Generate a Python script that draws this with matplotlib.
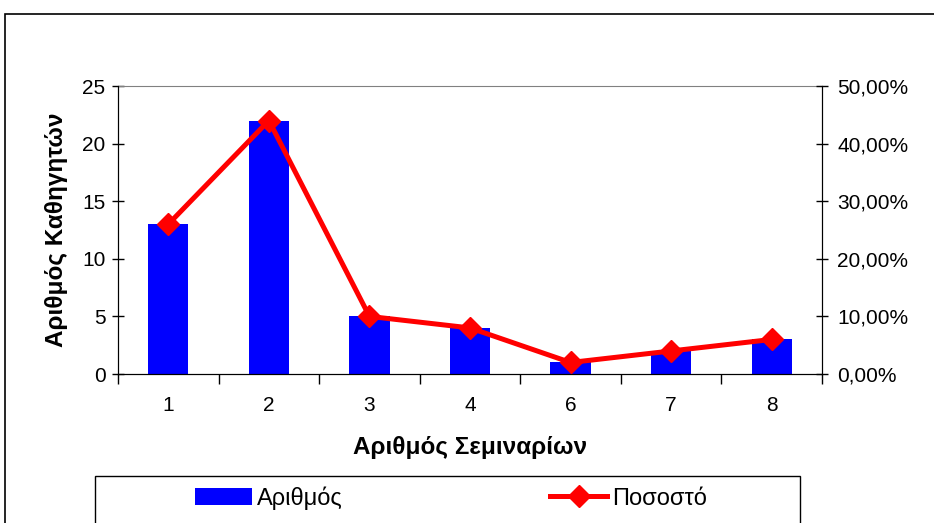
import matplotlib.pyplot as plt
from matplotlib.patches import Rectangle
from matplotlib.ticker import FuncFormatter, FixedLocator

plt.rcParams['font.family'] = ['Liberation Sans', 'DejaVu Sans']

# δεδομένα
seminars = ['1', '2', '3', '4', '6', '7', '8']
counts = [13, 22, 5, 4, 1, 2, 3]
percents = [0.26, 0.44, 0.10, 0.08, 0.02, 0.04, 0.06]

W, H = 934, 523
fig = plt.figure(figsize=(W / 100, H / 100), dpi=100)
fig.patch.set_facecolor('white')

# εξωτερικό πλαίσιο
fig.patches.append(Rectangle((5 / W, -0.1), 1.0, 1 - 14 / H + 0.1, transform=fig.transFigure,
                             fill=False, edgecolor='black', linewidth=1.2))

ax = fig.add_axes([118 / W, 1 - 374 / H, (822 - 118) / W, (374 - 86) / H])
x = list(range(len(seminars)))
ax.bar(x, counts, width=0.4, color='#0000ff', label='Αριθμός', zorder=2)
ax.set_xlim(-0.5, len(seminars) - 0.5)
ax.set_ylim(0, 25)
ax.set_yticks([0, 5, 10, 15, 20, 25])
ax.tick_params(axis='y', direction='inout', length=8, width=1, labelsize=15, pad=5)

ax.xaxis.set_major_locator(FixedLocator([i - 0.5 for i in range(len(seminars) + 1)]))
ax.xaxis.set_minor_locator(FixedLocator(x))
ax.set_xticklabels([], minor=False)
ax.set_xticklabels(seminars, minor=True)
ax.tick_params(axis='x', which='major', direction='out', length=7, width=1)
ax.tick_params(axis='x', which='minor', length=0, labelsize=15, pad=16)

ax.spines['top'].set_color('#808080')
for s in ['left', 'right', 'bottom']:
    ax.spines[s].set_color('black')

ax.set_xlabel('Αριθμός Σεμιναρίων', fontsize=17.5, fontweight='bold', labelpad=15)
ax.set_ylabel('Αριθμός Καθηγητών', fontsize=17.5, fontweight='bold', labelpad=10)

ax2 = ax.twinx()
ax2.plot(x, percents, color='#ff0000', linewidth=3.6, marker='D', markersize=11,
         label='Ποσοστό', zorder=3)
ax2.set_ylim(0, 0.5)
ax2.set_yticks([0, 0.1, 0.2, 0.3, 0.4, 0.5])
ax2.yaxis.set_major_formatter(FuncFormatter(lambda v, p: f'{v * 100:.2f}%'.replace('.', ',')))
ax2.tick_params(axis='y', direction='inout', length=8, width=1, labelsize=15, pad=7)
ax2.spines['top'].set_visible(False)

# υπόμνημα
fig.patches.append(Rectangle((95 / W, -0.1), (800 - 95) / W, 0.1 + (523 - 476) / H,
                             transform=fig.transFigure, fill=False, edgecolor='black',
                             linewidth=1.0))
h1, l1 = ax.get_legend_handles_labels()
h2, l2 = ax2.get_legend_handles_labels()
fig.legend(h1 + h2, l1 + l2, loc='center', bbox_to_anchor=(451 / W, 1 - 498 / H),
           ncol=2, frameon=False, fontsize=17, handlelength=2.4, handletextpad=0.2,
           columnspacing=8.8)

fig.savefig('out.png', dpi=100)
